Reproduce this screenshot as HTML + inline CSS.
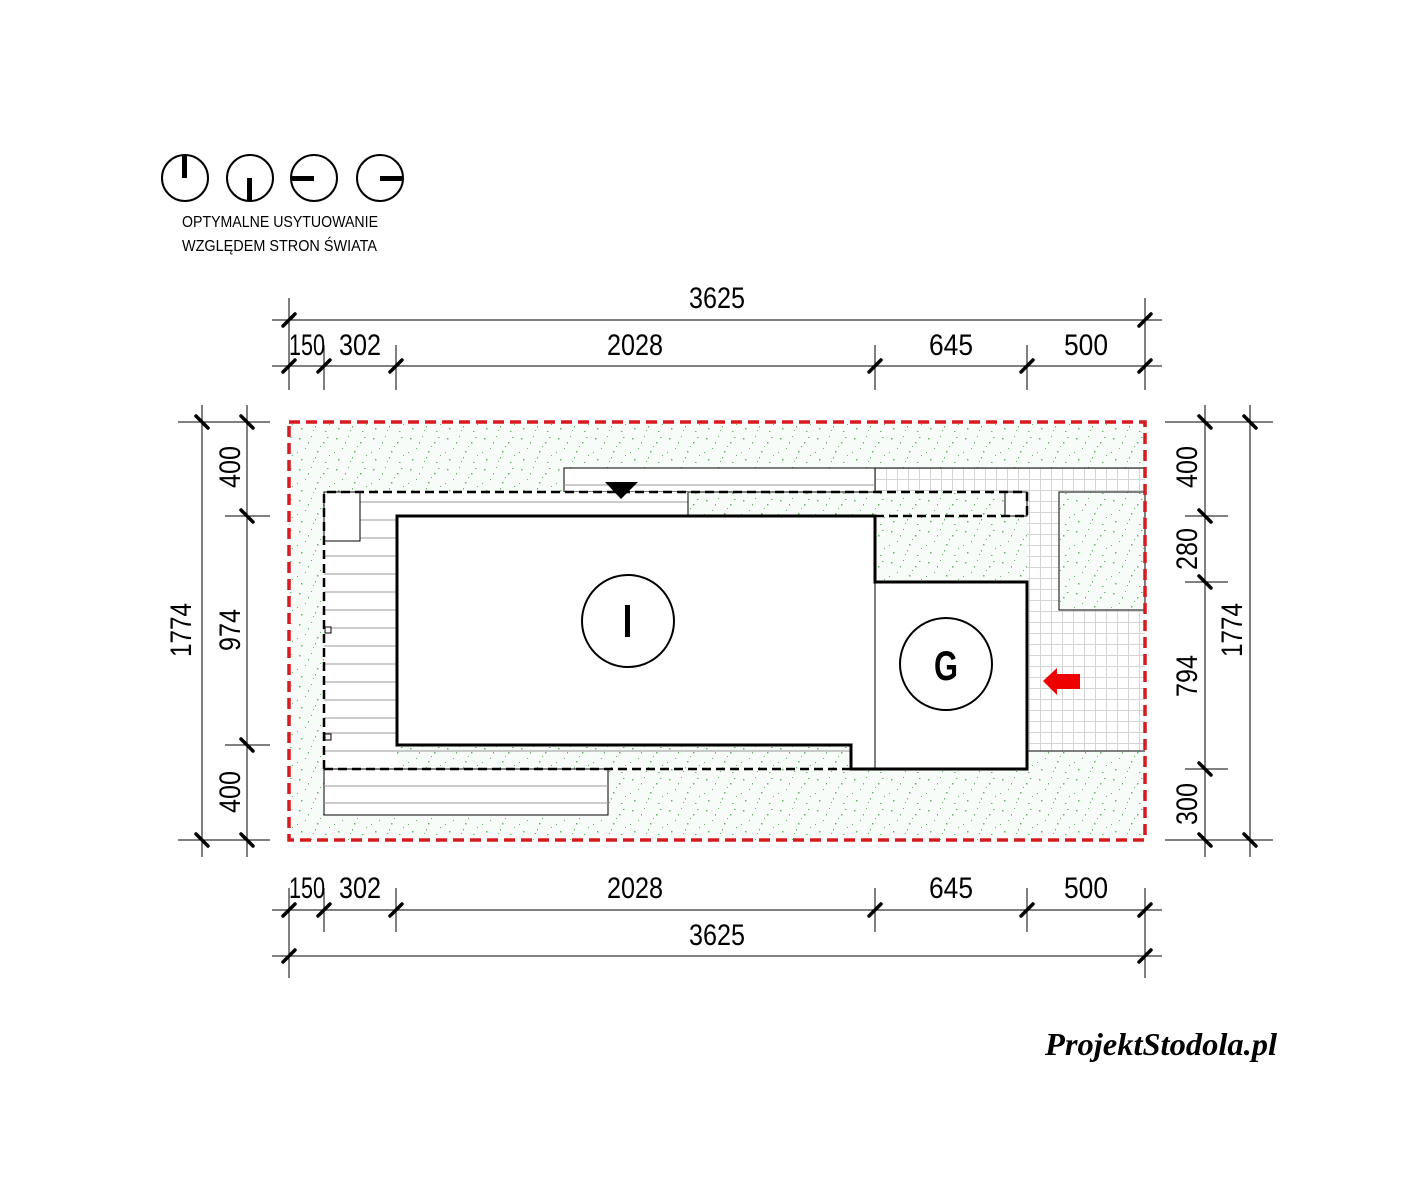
<!DOCTYPE html>
<html><head><meta charset="utf-8"><style>html,body{margin:0;padding:0;background:#fff}svg{display:block}</style></head><body>
<svg width="1402" height="1186" viewBox="0 0 1402 1186" xmlns="http://www.w3.org/2000/svg" font-family="Liberation Sans, sans-serif">
<defs>
<pattern id="g" width="37" height="31" patternUnits="userSpaceOnUse">
<rect width="37" height="31" fill="#f8fcf8"/>
<g fill="#5fb85f">
<rect x="3" y="4" width="1.5" height="1.5"/><rect x="15" y="2" width="1" height="1"/><rect x="27" y="8" width="1.5" height="1.5"/><rect x="9" y="14" width="1" height="1"/><rect x="21" y="17" width="1.5" height="1.5"/><rect x="33" y="21" width="1" height="1"/><rect x="5" y="25" width="1.5" height="1.5"/><rect x="17" y="27" width="1" height="1"/><rect x="29" y="28" width="1.5" height="1"/><rect x="12" y="8" width="1" height="1.5"/><rect x="24" y="12" width="1" height="1"/><rect x="1" y="18" width="1" height="1"/><rect x="31" y="3" width="1.5" height="1"/><rect x="19" y="23" width="1" height="1.5"/>
</g>
</pattern>
<pattern id="grid" width="11" height="11" patternUnits="userSpaceOnUse" x="875" y="468">
<rect width="11" height="11" fill="#fff"/>
<path d="M0 0.5H11M0.5 0V11" stroke="#d4d4d4" stroke-width="1"/>
</pattern>
</defs>

<g stroke="#000" fill="none" stroke-width="2">
<circle cx="185" cy="178" r="23"/><circle cx="250" cy="178" r="23"/><circle cx="314" cy="178" r="23"/><circle cx="380" cy="178" r="23"/>
</g>
<g fill="#000">
<rect x="182" y="155" width="5" height="23"/>
<rect x="247" y="178" width="5" height="23"/>
<rect x="291" y="176" width="23" height="5"/>
<rect x="380" y="176" width="23" height="5"/>
</g>
<text x="182" y="227" font-size="16" textLength="196" lengthAdjust="spacingAndGlyphs">OPTYMALNE USYTUOWANIE</text>
<text x="182" y="251" font-size="16" textLength="195" lengthAdjust="spacingAndGlyphs">WZGLĘDEM STRON ŚWIATA</text>

<rect x="289" y="422" width="856" height="418" fill="url(#g)"/>
<rect x="875" y="468" width="270" height="24" fill="url(#grid)"/>
<rect x="1027" y="492" width="118" height="259" fill="url(#grid)"/>
<rect x="1059" y="492" width="86" height="118" fill="url(#g)" stroke="#000" stroke-width="1"/>
<line x1="1027" y1="751" x2="1145" y2="751" stroke="#000" stroke-width="1"/>
<rect x="564" y="468" width="311" height="24" fill="#fff" stroke="#000" stroke-width="1"/>
<line x1="564" y1="485" x2="875" y2="485" stroke="#999"/>
<line x1="875" y1="468" x2="1145" y2="468" stroke="#000"/>
<rect x="324" y="492" width="364" height="24" fill="#fff"/>
<rect x="324" y="492" width="73" height="277" fill="#fff"/>
<line x1="360" y1="502" x2="688" y2="502" stroke="#999"/>
<line x1="688" y1="492" x2="688" y2="516" stroke="#000"/>
<g stroke="#999">
<line x1="360" y1="520" x2="397" y2="520"/><line x1="360" y1="538" x2="397" y2="538"/>
<line x1="324" y1="556" x2="397" y2="556"/><line x1="324" y1="574" x2="397" y2="574"/><line x1="324" y1="592" x2="397" y2="592"/><line x1="324" y1="610" x2="397" y2="610"/><line x1="324" y1="628" x2="397" y2="628"/><line x1="324" y1="646" x2="397" y2="646"/><line x1="324" y1="664" x2="397" y2="664"/><line x1="324" y1="682" x2="397" y2="682"/><line x1="324" y1="700" x2="397" y2="700"/><line x1="324" y1="718" x2="397" y2="718"/><line x1="324" y1="733" x2="397" y2="733"/><line x1="324" y1="751" x2="851" y2="751"/>
</g>
<rect x="324" y="769" width="284" height="46" fill="#fff" stroke="#000" stroke-width="1"/>
<line x1="324" y1="786" x2="608" y2="786" stroke="#999"/><line x1="324" y1="803" x2="608" y2="803" stroke="#999"/>
<rect x="324" y="492" width="36" height="49" fill="#fff" stroke="#000"/>
<rect x="1005" y="492" width="22" height="24" fill="#fff" stroke="#000"/>
<rect x="325" y="627" width="6" height="6" fill="#fff" stroke="#000"/>
<rect x="325" y="734" width="6" height="6" fill="#fff" stroke="#000"/>

<path d="M397 516H875V582H1027V769H851V745H397Z" fill="#fff"/>
<path d="M397 516H875V582H1027V769H851V745H397Z" fill="none" stroke="#000" stroke-width="3"/>
<line x1="875" y1="582" x2="875" y2="769" stroke="#000" stroke-width="1"/>
<g stroke="#000" stroke-width="2.5" stroke-dasharray="9,5" fill="none">
<path d="M324 769V492H1027V516"/>
<path d="M324 769H851"/>
<path d="M875 516H1027"/>
</g>
<polygon points="605,482 638,482 621,499" fill="#000"/>
<circle cx="628" cy="621" r="46" fill="#fff" stroke="#000" stroke-width="2"/>
<rect x="625" y="605" width="5" height="32" fill="#000"/>
<circle cx="946" cy="664" r="46" fill="#fff" stroke="#000" stroke-width="2"/>
<text x="946" y="680" font-size="42" font-weight="bold" text-anchor="middle" textLength="24" lengthAdjust="spacingAndGlyphs">G</text>
<polygon points="1043,681 1057,668 1057,674 1080,674 1080,689 1057,689 1057,695" fill="#e00"/>

<rect x="289" y="422" width="856" height="418" fill="none" stroke="#d71920" stroke-width="3.5" stroke-dasharray="11,6"/>

<g stroke="#000" stroke-width="1">
<line x1="272" y1="320" x2="1162" y2="320"/>
<line x1="272" y1="366" x2="1162" y2="366"/>
<line x1="289" y1="298" x2="289" y2="390"/>
<line x1="1145" y1="298" x2="1145" y2="390"/>
<line x1="324" y1="345" x2="324" y2="390"/><line x1="396" y1="345" x2="396" y2="390"/><line x1="875" y1="345" x2="875" y2="390"/><line x1="1027" y1="345" x2="1027" y2="390"/>
<line x1="272" y1="910" x2="1162" y2="910"/>
<line x1="272" y1="956" x2="1162" y2="956"/>
<line x1="289" y1="888" x2="289" y2="978"/><line x1="1145" y1="888" x2="1145" y2="978"/>
<line x1="324" y1="888" x2="324" y2="932"/><line x1="396" y1="888" x2="396" y2="932"/><line x1="875" y1="888" x2="875" y2="932"/><line x1="1027" y1="888" x2="1027" y2="932"/>
<line x1="202" y1="405" x2="202" y2="857"/>
<line x1="247" y1="405" x2="247" y2="857"/>
<line x1="178" y1="422" x2="270" y2="422"/><line x1="178" y1="840" x2="270" y2="840"/>
<line x1="225" y1="516" x2="270" y2="516"/><line x1="225" y1="745" x2="270" y2="745"/>
<line x1="1205" y1="405" x2="1205" y2="857"/>
<line x1="1250" y1="405" x2="1250" y2="857"/>
<line x1="1165" y1="422" x2="1273" y2="422"/><line x1="1165" y1="840" x2="1273" y2="840"/>
<line x1="1185" y1="516" x2="1228" y2="516"/><line x1="1185" y1="582" x2="1228" y2="582"/><line x1="1185" y1="769" x2="1228" y2="769"/>
</g>
<g stroke="#000" stroke-width="3.5" stroke-linecap="round">
<path d="M283 326l12-12M1139 326l12-12"/>
<path d="M283 372l12-12M318 372l12-12M390 372l12-12M869 372l12-12M1021 372l12-12M1139 372l12-12"/>
<path d="M283 916l12-12M318 916l12-12M390 916l12-12M869 916l12-12M1021 916l12-12M1139 916l12-12"/>
<path d="M283 962l12-12M1139 962l12-12"/>
<path d="M196 416l12 12M196 834l12 12M241 416l12 12M241 510l12 12M241 739l12 12M241 834l12 12"/>
<path d="M1199 416l12 12M1199 510l12 12M1199 576l12 12M1199 763l12 12M1199 834l12 12M1244 416l12 12M1244 834l12 12"/>
</g>
<g font-size="30" text-anchor="middle">
<text x="717" y="308" textLength="56" lengthAdjust="spacingAndGlyphs">3625</text>
<text x="307" y="355" textLength="36" lengthAdjust="spacingAndGlyphs">150</text>
<text x="360" y="355" textLength="42" lengthAdjust="spacingAndGlyphs">302</text>
<text x="635" y="355" textLength="56" lengthAdjust="spacingAndGlyphs">2028</text>
<text x="951" y="355" textLength="44" lengthAdjust="spacingAndGlyphs">645</text>
<text x="1086" y="355" textLength="44" lengthAdjust="spacingAndGlyphs">500</text>
<text x="307" y="898" textLength="36" lengthAdjust="spacingAndGlyphs">150</text>
<text x="360" y="898" textLength="42" lengthAdjust="spacingAndGlyphs">302</text>
<text x="635" y="898" textLength="56" lengthAdjust="spacingAndGlyphs">2028</text>
<text x="951" y="898" textLength="44" lengthAdjust="spacingAndGlyphs">645</text>
<text x="1086" y="898" textLength="44" lengthAdjust="spacingAndGlyphs">500</text>
<text x="717" y="945" textLength="56" lengthAdjust="spacingAndGlyphs">3625</text>
<text transform="translate(240,467) rotate(-90)" textLength="42" lengthAdjust="spacingAndGlyphs">400</text>
<text transform="translate(240,630) rotate(-90)" textLength="42" lengthAdjust="spacingAndGlyphs">974</text>
<text transform="translate(240,792) rotate(-90)" textLength="42" lengthAdjust="spacingAndGlyphs">400</text>
<text transform="translate(191,630) rotate(-90)" textLength="54" lengthAdjust="spacingAndGlyphs">1774</text>
<text transform="translate(1197,467) rotate(-90)" textLength="42" lengthAdjust="spacingAndGlyphs">400</text>
<text transform="translate(1197,549) rotate(-90)" textLength="42" lengthAdjust="spacingAndGlyphs">280</text>
<text transform="translate(1197,676) rotate(-90)" textLength="42" lengthAdjust="spacingAndGlyphs">794</text>
<text transform="translate(1197,804) rotate(-90)" textLength="42" lengthAdjust="spacingAndGlyphs">300</text>
<text transform="translate(1242,630) rotate(-90)" textLength="54" lengthAdjust="spacingAndGlyphs">1774</text>
</g>
<text x="1045" y="1055" font-size="32" font-style="italic" font-weight="bold" font-family="Liberation Serif, serif" textLength="232" lengthAdjust="spacingAndGlyphs">ProjektStodola.pl</text>
</svg>
</body></html>
